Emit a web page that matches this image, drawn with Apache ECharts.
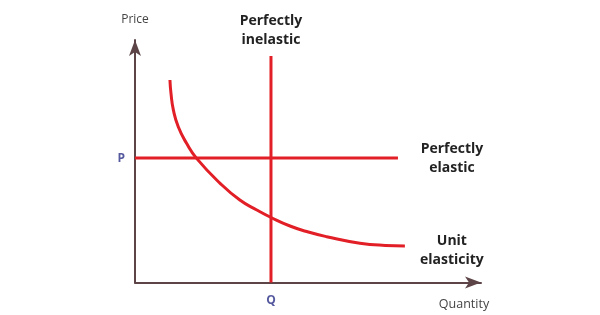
<!DOCTYPE html>
<html>
<head>
<meta charset="utf-8">
<script src="https://cdn.jsdelivr.net/npm/echarts@6/dist/echarts.min.js"></script>
<style>html,body{margin:0;padding:0;background:#fff}#c{width:600px;height:315px}</style>
</head>
<body>
<div id="c"></div>
<script>
// Unit elasticity demand curve
const unitCurveX = [10.1, 10.4, 11.1, 12.5, 14.9, 17.8, 24.6, 30.3, 35.2, 39.2, 44.8, 50.1, 55.4, 65.0, 72.3, 78.0];
const unitCurveY = [83.5, 78.0, 71.1, 64.2, 57.4, 51.2, 40.9, 34.0, 29.9, 26.9, 23.3, 20.8, 18.9, 16.2, 15.3, 15.1];
// Perfectly elastic: horizontal at price P
const elasticX = [0, 76.0];
const elasticY = [51.3, 51.3];
// Perfectly inelastic: vertical at quantity Q
const inelasticX = [39.3, 39.3];
const inelasticY = [0, 93.4];
// Axis marks
const priceMark = { label: 'P', x: 0, y: 51.3 };
const quantityMark = { label: 'Q', x: 39.3, y: 0 };
const axisNames = { x: 'Quantity', y: 'Price' };
const curveLabels = {
  inelastic: 'Perfectly\ninelastic',
  elastic: 'Perfectly\nelastic',
  unit: 'Unit\nelasticity'
};

const zip = (xs, ys) => xs.map((x, i) => [x, ys[i]]);
const RED = '#e21f26';
const AXIS = '#5c4447';
const FONT = '"Open Sans", sans-serif';
const boldLabel = {
  color: '#222',
  fontFamily: FONT,
  fontWeight: 'bold',
  fontSize: 14,
  lineHeight: 19,
  align: 'center'
};

const chart = echarts.init(document.getElementById('c'), null, { renderer: 'canvas' });
chart.setOption({
  animation: false,
  backgroundColor: '#fff',
  grid: { left: 135, right: 119, top: 40, bottom: 32.5 },
  xAxis: {
    type: 'value', min: 0, max: 100,
    name: axisNames.x,
    nameLocation: 'end',
    nameGap: -17,
    nameTextStyle: { color: '#444', fontFamily: FONT, fontSize: 12.5, align: 'center', verticalAlign: 'top', padding: [15, 0, 0, 0] },
    axisLine: { show: true, symbol: ['none', 'arrow'], symbolSize: [9, 16], lineStyle: { color: AXIS, width: 2 } },
    axisTick: { show: false }, axisLabel: { show: false }, splitLine: { show: false }
  },
  yAxis: {
    type: 'value', min: 0, max: 100,
    name: axisNames.y,
    nameLocation: 'end',
    nameGap: 14,
    nameTextStyle: { color: '#444', fontFamily: FONT, fontSize: 12, align: 'center' },
    axisLine: { show: true, symbol: ['none', 'arrow'], symbolSize: [9, 16], lineStyle: { color: AXIS, width: 2 } },
    axisTick: { show: false }, axisLabel: { show: false }, splitLine: { show: false }
  },
  series: [
    {
      type: 'line', data: zip(inelasticX, inelasticY), showSymbol: false, symbol: 'none',
      lineStyle: { color: RED, width: 3 },
      markPoint: {
        symbol: 'circle', symbolSize: 0,
        data: [{ coord: [inelasticX[1], inelasticY[1]], value: 0 }],
        label: Object.assign({ show: true, position: 'top', distance: 6, formatter: curveLabels.inelastic }, boldLabel)
      }
    },
    {
      type: 'line', data: zip(elasticX, elasticY), showSymbol: false, symbol: 'none',
      lineStyle: { color: RED, width: 3 },
      markPoint: {
        symbol: 'circle', symbolSize: 0,
        data: [{ coord: [elasticX[1], elasticY[1]], value: 0 }],
        label: Object.assign({ show: true, position: 'right', distance: 54, offset: [0, 0], formatter: curveLabels.elastic }, boldLabel)
      }
    },
    {
      type: 'line', data: zip(unitCurveX, unitCurveY), showSymbol: false, symbol: 'none', smooth: 0.5,
      lineStyle: { color: RED, width: 3, cap: 'butt' },
      markPoint: {
        symbol: 'circle', symbolSize: 0,
        data: [{ coord: [unitCurveX[unitCurveX.length - 1], unitCurveY[unitCurveY.length - 1]], value: 0 }],
        label: Object.assign({ show: true, position: 'right', distance: 47, offset: [0, 5], formatter: curveLabels.unit }, boldLabel)
      }
    },
    {
      type: 'scatter', symbolSize: 0,
      data: [
        { value: [priceMark.x, priceMark.y], label: { position: 'left', distance: 10, formatter: priceMark.label } },
        { value: [quantityMark.x, quantityMark.y], label: { position: 'bottom', distance: 12, formatter: quantityMark.label } }
      ],
      label: { show: true, color: '#2b2f86', fontFamily: FONT, fontWeight: 'bold', fontSize: 12 },
      silent: true
    }
  ]
});
</script>
</body>
</html>
